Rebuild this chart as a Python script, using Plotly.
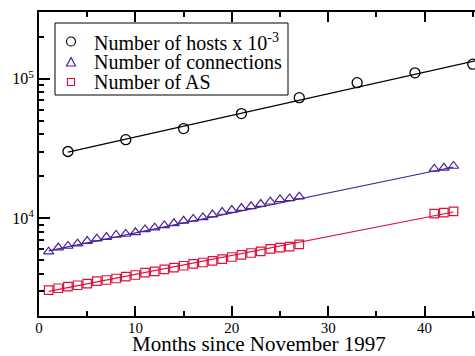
import plotly.graph_objects as go
import math

# ---------------- data ----------------
months_hosts = [3, 9, 15, 21, 27, 33, 39, 45]
hosts = [30100, 36600, 43900, 56200, 73100, 93600, 110000, 127000]

months_monthly = list(range(1, 28)) + [41, 42, 43]
connections = [5780, 6180, 6340, 6590, 6880, 7160, 7350, 7600, 7730, 7940,
               8340, 8570, 8910, 9210, 9600, 9900, 10150, 10650, 11100, 11470,
               11850, 12190, 12660, 13150, 13670, 13900, 14300,
               22600, 23000, 23700]
as_counts = [3060, 3160, 3250, 3320, 3410, 3550, 3620, 3710, 3830, 3930,
             4090, 4180, 4320, 4440, 4580, 4720, 4830, 4960, 5110, 5290,
             5470, 5650, 5810, 6040, 6170, 6280, 6520,
             10800, 11000, 11220]

# fitted trend lines (end points)
fit_hosts_x = [3, 46]
fit_hosts_y = [29800, 138000]
fit_conn_x = [1, 43]
fit_conn_y = [5850, 23300]
fit_as_x = [1, 43]
fit_as_y = [3000, 11100]

legend_labels = ["Number of hosts x 10<sup>-3</sup>",
                 "Number of connections",
                 "Number of AS"]
x_title = "Months since November 1997"

x_major = [0, 10, 20, 30, 40]
x_minor = [5, 15, 25, 35, 45]
y_major = [1e4, 1e5]
y_major_text = ["10<sup>4</sup>", "10<sup>5</sup>"]
y_minor = [2000, 3000, 4000, 5000, 6000, 7000, 8000, 9000,
           20000, 30000, 40000, 50000, 60000, 70000, 80000, 90000,
           200000, 300000]

# ---------------- styles ----------------
BLACK = "#000000"
PURPLE = "#4b2196"
RED = "#e0103c"
FONT = "Liberation Serif"

W, H = 475, 356
ML, MR, MT, MB = 39, 0, 12, 40
PW, PH = W - ML - MR, H - MT - MB
X_RANGE = [0, PW / 9.64]
Y_RANGE = [math.log10(2000), math.log10(300000)]


def px(x, y):
    return (x - ML) / PW, (MT + PH - y) / PH


fig = go.Figure()

# fit lines
for fx, fy, col in [(fit_hosts_x, fit_hosts_y, BLACK),
                    (fit_conn_x, fit_conn_y, PURPLE),
                    (fit_as_x, fit_as_y, RED)]:
    fig.add_trace(go.Scatter(x=fx, y=fy, mode="lines",
                             line=dict(color=col, width=1.2),
                             showlegend=False, hoverinfo="skip"))

# markers
fig.add_trace(go.Scatter(x=months_hosts, y=hosts, mode="markers",
                         name=legend_labels[0], showlegend=False,
                         marker=dict(symbol="circle-open", size=10,
                                     color=BLACK, line=dict(width=1.3))))
fig.add_trace(go.Scatter(x=months_monthly, y=connections, mode="markers",
                         name=legend_labels[1], showlegend=False,
                         marker=dict(symbol="triangle-up-open", size=9,
                                     color=PURPLE, line=dict(width=1.2))))
fig.add_trace(go.Scatter(x=months_monthly, y=as_counts, mode="markers",
                         name=legend_labels[2], showlegend=False,
                         marker=dict(symbol="square-open", size=8.5,
                                     color=RED, line=dict(width=1.2))))

# ---------------- manual legend ----------------
shapes = []
bx0, by0 = px(55, 23)
bx1, by1 = px(288, 95)
shapes.append(dict(type="rect", xref="paper", yref="paper",
                   x0=bx0, y0=by1, x1=bx1, y1=by0,
                   line=dict(color=BLACK, width=1), fillcolor="white",
                   layer="above"))
# circle symbol
c0 = px(66.5, 37)
c1 = px(75.5, 46)
shapes.append(dict(type="circle", xref="paper", yref="paper",
                   x0=c0[0], y0=c1[1], x1=c1[0], y1=c0[1],
                   line=dict(color=BLACK, width=1.2), layer="above"))
# triangle symbol
ta = px(71, 57.5)
tb = px(66.5, 66)
tc = px(75.5, 66)
shapes.append(dict(type="path", xref="paper", yref="paper",
                   path=f"M {ta[0]},{ta[1]} L {tb[0]},{tb[1]} L {tc[0]},{tc[1]} Z",
                   line=dict(color=PURPLE, width=1.2), layer="above"))
# square symbol
s0 = px(67.5, 78.5)
s1 = px(74.5, 85.5)
shapes.append(dict(type="rect", xref="paper", yref="paper",
                   x0=s0[0], y0=s1[1], x1=s1[0], y1=s0[1],
                   line=dict(color=RED, width=1.2), layer="above"))

annotations = []
for label, yy in zip(legend_labels, [42, 62, 82]):
    ax, ay = px(92, yy)
    annotations.append(dict(text=label, xref="paper", yref="paper",
                            x=ax, y=ay, xanchor="left", yanchor="middle",
                            showarrow=False,
                            font=dict(family=FONT, size=20, color=BLACK)))

# x axis title as an annotation for exact placement
tx, ty = px(259, 343.5)
annotations.append(dict(text=x_title, xref="paper", yref="paper",
                        x=tx, y=ty, xanchor="center", yanchor="middle",
                        showarrow=False,
                        font=dict(family=FONT, size=21, color=BLACK)))

fig.update_layout(
    width=W, height=H,
    margin=dict(l=ML, r=MR, t=MT, b=MB, pad=0),
    paper_bgcolor="white", plot_bgcolor="white",
    showlegend=False,
    shapes=shapes, annotations=annotations,
    font=dict(family=FONT, color=BLACK),
    xaxis=dict(range=X_RANGE, showgrid=False, zeroline=False,
               showline=True, linecolor=BLACK, linewidth=2, mirror="ticks",
               ticks="inside", ticklen=10, tickwidth=1.5, tickcolor=BLACK,
               tickvals=x_major, ticktext=[str(v) for v in x_major],
               tickfont=dict(family=FONT, size=15, color=BLACK),
               ticklabelstandoff=-3,
               minor=dict(tickvals=x_minor, ticks="inside", ticklen=5,
                          tickwidth=1.5, tickcolor=BLACK, showgrid=False)),
    yaxis=dict(type="log", range=Y_RANGE, showgrid=False, zeroline=False,
               showline=True, linecolor=BLACK, linewidth=2, mirror=False,
               ticks="inside", ticklen=11, tickwidth=1.5, tickcolor=BLACK,
               tickvals=y_major, ticktext=y_major_text,
               tickfont=dict(family=FONT, size=16, color=BLACK),
               minor=dict(tickvals=y_minor, ticks="inside", ticklen=5,
                          tickwidth=1.5, tickcolor=BLACK, showgrid=False)),
    yaxis2=dict(type="log", range=Y_RANGE, overlaying="y", side="right",
                anchor="x", showgrid=False, zeroline=False, showline=False,
                ticks="inside", ticklen=4, tickwidth=1.5, tickcolor=BLACK,
                tickvals=y_major, showticklabels=False),
)

fig.write_html("out.html")
